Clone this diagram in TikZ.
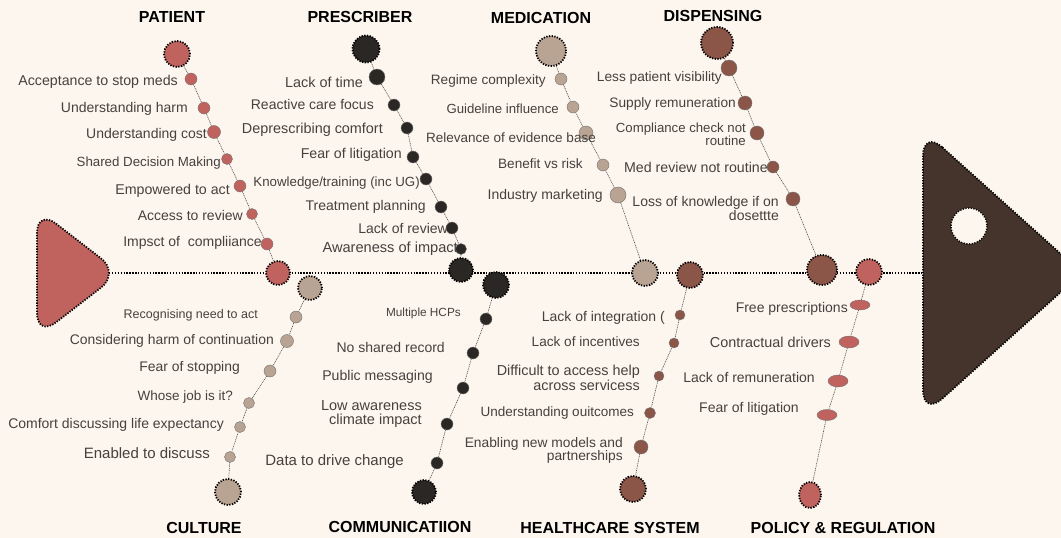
\documentclass[tikz,border=0pt]{standalone}
\usepackage{fontspec}
\setmainfont{Liberation Sans}
\usetikzlibrary{shapes.geometric}

\definecolor{bg}{HTML}{FDF6EE}
\definecolor{rose}{HTML}{C0635F}
\definecolor{coal}{HTML}{2B2724}
\definecolor{taupe}{HTML}{B9A392}
\definecolor{rust}{HTML}{8B5548}
\definecolor{headc}{HTML}{45342B}
\definecolor{txt}{HTML}{45413E}

\tikzset{
  hub/.style 2 args={circle, fill=#1, minimum size=#2, inner sep=0pt,
    draw=black, line width=1.8pt, dash pattern=on 1.3pt off 1.4pt},
  twig/.style 2 args={circle, fill=#1, minimum size=#2, inner sep=0pt,
    draw=black!55, line width=0.4pt},
  pill/.style 2 args={ellipse, fill=rose, minimum width=#1, minimum height=#2,
    inner sep=0pt, draw=black!55, line width=0.4pt},
  bone/.style={draw=black!70, line width=0.6pt, dash pattern=on 1pt off 0.8pt},
  spine/.style={draw=black, line width=2.3pt, dash pattern=on 1.4pt off 1.5pt},
  outline/.style={draw=black, line width=1.8pt, dash pattern=on 1.3pt off 1.4pt},
  lab/.style={font=\fontsize{14}{16}\selectfont, text=txt, inner sep=0pt, anchor=east},
  lab2/.style={font=\fontsize{13.5}{13}\selectfont, text=txt, inner sep=0pt, anchor=east, align=right},
  ttl/.style={font=\bfseries\fontsize{16}{18}\selectfont, text=black, inner sep=0pt},
}
\newcommand{\fsz}[1]{\fontsize{#1}{#1}\selectfont}

\begin{document}
\begin{tikzpicture}[x=1pt,y=-1pt]
\useasboundingbox (0,0) rectangle (1061,538);
\fill[bg] (0,0) rectangle (1061,538);

% spine end points
\coordinate (tailtip) at (109,273);
\coordinate (headback) at (923,273);
\draw[spine] (tailtip) -- (headback);

% tail fin
\draw[outline, fill=rose, rounded corners=24pt] (37,209) -- (120,273) -- (37,337) -- cycle;
% head with eye
\draw[outline, fill=headc, rounded corners=26pt] (923,130) -- (1082,273) -- (923,416) -- cycle;
\draw[outline, line width=1.4pt, fill=bg] (969,226) circle (18);

% ---------- PATIENT ----------
\node[hub={rose}{26}] (pa0) at (177,54) {};
\node[twig={rose}{12}] (pa1) at (191,79) {};
\node[twig={rose}{12}] (pa2) at (204,108) {};
\node[twig={rose}{13}] (pa3) at (214,132) {};
\node[twig={rose}{11}] (pa4) at (227,159) {};
\node[twig={rose}{12}] (pa5) at (240,186) {};
\node[twig={rose}{11}] (pa6) at (252,214) {};
\node[twig={rose}{12}] (pa7) at (267,244) {};
\node[hub={rose}{24}] (pa8) at (278,273) {};
\draw[bone] (pa0) -- (pa1) -- (pa2) -- (pa3) -- (pa4) -- (pa5) -- (pa6) -- (pa7) -- (pa8);

% ---------- PRESCRIBER ----------
\node[hub={coal}{27}] (pr0) at (366,49) {};
\node[twig={coal}{16}] (pr1) at (377,77) {};
\node[twig={coal}{12}] (pr2) at (394,105) {};
\node[twig={coal}{12}] (pr3) at (407,128) {};
\node[twig={coal}{12}] (pr4) at (413,157) {};
\node[twig={coal}{12}] (pr5) at (426,179) {};
\node[twig={coal}{12}] (pr6) at (441,207) {};
\node[twig={coal}{12}] (pr7) at (452,228) {};
\node[twig={coal}{11}] (pr8) at (461,249) {};
\node[hub={coal}{24}] (pr9) at (461,270) {};
\draw[bone] (pr0) -- (pr1) -- (pr2) -- (pr3) -- (pr4) -- (pr5) -- (pr6) -- (pr7) -- (pr8) -- (pr9);

% ---------- MEDICATION ----------
\node[hub={taupe}{30}] (me0) at (551,51) {};
\node[twig={taupe}{12}] (me1) at (561,79) {};
\node[twig={taupe}{12}] (me2) at (573,107) {};
\node[twig={taupe}{14}] (me3) at (586,133) {};
\node[twig={taupe}{12}] (me4) at (603,165) {};
\node[twig={taupe}{16}] (me5) at (618,195) {};
\node[hub={taupe}{26}] (me6) at (645,273) {};
\draw[bone] (me0) -- (me1) -- (me2) -- (me3) -- (me4) -- (me5) -- (me6);

% ---------- DISPENSING ----------
\node[hub={rust}{32}] (di0) at (717,43) {};
\node[twig={rust}{16}] (di1) at (729,68) {};
\node[twig={rust}{14}] (di2) at (745,103) {};
\node[twig={rust}{14}] (di3) at (757,133) {};
\node[twig={rust}{12}] (di4) at (773,167) {};
\node[twig={rust}{14}] (di5) at (793,199) {};
\node[hub={rust}{30}] (di6) at (822,270) {};
\draw[bone] (di0) -- (di1) -- (di2) -- (di3) -- (di4) -- (di5) -- (di6);

% ---------- CULTURE ----------
\node[hub={taupe}{24}] (cu0) at (310,288) {};
\node[twig={taupe}{12}] (cu1) at (296,317) {};
\node[twig={taupe}{13}] (cu2) at (287,341) {};
\node[twig={taupe}{12}] (cu3) at (270,371) {};
\node[twig={taupe}{11}] (cu4) at (249,403) {};
\node[twig={taupe}{11}] (cu5) at (240,427) {};
\node[twig={taupe}{11}] (cu6) at (230,457) {};
\node[hub={taupe}{26}] (cu7) at (228,492) {};
\draw[bone] (cu0) -- (cu1) -- (cu2) -- (cu3) -- (cu4) -- (cu5) -- (cu6) -- (cu7);

% ---------- COMMUNICATION ----------
\node[hub={coal}{26}] (co0) at (496,285) {};
\node[twig={coal}{12}] (co1) at (486,319) {};
\node[twig={coal}{12}] (co2) at (473,353) {};
\node[twig={coal}{12}] (co3) at (463,388) {};
\node[twig={coal}{12}] (co4) at (447,424) {};
\node[twig={coal}{12}] (co5) at (437,463) {};
\node[hub={coal}{24}] (co6) at (424,492) {};
\draw[bone] (co0) -- (co1) -- (co2) -- (co3) -- (co4) -- (co5) -- (co6);

% ---------- HEALTHCARE SYSTEM ----------
\node[hub={rust}{26}] (hs0) at (690,275) {};
\node[twig={rust}{10}] (hs1) at (680,315) {};
\node[twig={rust}{10}] (hs2) at (674,343) {};
\node[twig={rust}{10}] (hs3) at (659,376) {};
\node[twig={rust}{11}] (hs4) at (650,413) {};
\node[twig={rust}{14}] (hs5) at (641,447) {};
\node[hub={rust}{26}] (hs6) at (633,489) {};
\draw[bone] (hs0) -- (hs1) -- (hs2) -- (hs3) -- (hs4) -- (hs5) -- (hs6);

% ---------- POLICY & REGULATION ----------
\node[hub={rose}{26}] (po0) at (869,272) {};
\node[pill={20}{10}] (po1) at (860,305) {};
\node[pill={20}{12}] (po2) at (849,342) {};
\node[pill={20}{12}] (po3) at (838,381) {};
\node[pill={20}{11}] (po4) at (827,415) {};
\node[hub={rose}{1}, ellipse, minimum width=22, minimum height=26] (po5) at (810,495) {};
\draw[bone] (po0) -- (po1) -- (po2) -- (po3) -- (po4) -- (po5);

% ---------- labels ----------
\node[lab, font=\fsz{14.2}] (lpa1) at (178,82) {Acceptance to stop meds};
\node[lab] (lpa2) at (188,109) {Understanding harm};
\node[lab] (lpa3) at (207,135) {Understanding cost};
\node[lab, font=\fsz{13.3}] (lpa4) at (221,163) {Shared Decision Making};
\node[lab, font=\fsz{14.2}] (lpa5) at (230,191) {Empowered to act};
\node[lab] (lpa6) at (243,215) {Access to review};
\node[lab] (lpa7) at (262,243) {Impsct of\ \ compliiance};

\node[lab, font=\fsz{14.4}] (lpr1) at (363,82) {Lack of time};
\node[lab] (lpr2) at (374,104) {Reactive care focus};
\node[lab, font=\fsz{14.4}] (lpr3) at (383,130) {Deprescribing comfort};
\node[lab, font=\fsz{14.2}] (lpr4) at (402,155) {Fear of litigation};
\node[lab, font=\fsz{13.3}] (lpr5) at (420,183) {Knowledge/training (inc UG)};
\node[lab] (lpr6) at (426,207) {Treatment planning};
\node[lab] (lpr7) at (448,228) {Lack of review};
\node[lab, font=\fsz{14.6}] (lpr8) at (458,249) {Awareness of impact};

\node[lab, font=\fsz{13.6}] (lme1) at (546,81) {Regime complexity};
\node[lab, font=\fsz{13.2}] (lme2) at (559,109) {Guideline influence};
\node[lab, font=\fsz{13.5}] (lme3) at (596,138) {Relevance of evidence base};
\node[lab, font=\fsz{13.6}] (lme4) at (583,164) {Benefit vs risk};
\node[lab] (lme5) at (603,196) {Industry marketing};

\node[lab, font=\fsz{13.7}] (ldi1) at (722,78) {Less patient visibility};
\node[lab, font=\fsz{13.7}] (ldi2) at (736,104) {Supply remuneration};
\node[lab2, font=\fsz{13.2}] (ldi3) at (746,134) {Compliance check not\\routine};
\node[lab, font=\fsz{14.2}] (ldi4) at (768,167) {Med review not routine};
\node[lab2, font=\fsz{14}] (ldi5) at (779,208) {Loss of knowledge if on\\dosettte};

\node[lab, font=\fsz{12.5}] (lcu1) at (258,315) {Recognising need to act};
\node[lab, font=\fsz{13.9}] (lcu2) at (274,341) {Considering harm of continuation};
\node[lab, font=\fsz{13.9}] (lcu3) at (240,368) {Fear of stopping};
\node[lab, font=\fsz{13.5}] (lcu4) at (233,397) {Whose job is it?};
\node[lab, font=\fsz{14}] (lcu5) at (224,425) {Comfort discussing life expectancy};
\node[lab, font=\fsz{15}] (lcu6) at (210,453) {Enabled to discuss};

\node[lab, font=\fsz{11.8}] (lco1) at (461,313) {Multiple HCPs};
\node[lab] (lco2) at (445,347) {No shared record};
\node[lab, font=\fsz{14.1}] (lco3) at (433,377) {Public messaging};
\node[lab2, font=\fontsize{14.5}{14}\selectfont] (lco4) at (422,414) {Low awareness\\climate impact};
\node[lab, font=\fsz{15}] (lco5) at (404,462) {Data to drive change};

\node[lab] (lhs1) at (665,318) {Lack of integration (};
\node[lab, font=\fsz{13.6}] (lhs2) at (640,342) {Lack of incentives};
\node[lab2, font=\fontsize{14.4}{13}\selectfont] (lhs3) at (640,378) {Difficult to access help\\across servicess};
\node[lab, font=\fsz{13.5}] (lhs4) at (634,413) {Understanding ouitcomes};
\node[lab2, font=\fontsize{13.8}{13}\selectfont] (lhs5) at (623,450) {Enabling new models and\\partnerships};

\node[lab] (lpo1) at (848,309) {Free prescriptions};
\node[lab, font=\fsz{14.4}] (lpo2) at (831,342) {Contractual drivers};
\node[lab] (lpo3) at (815,377) {Lack of remuneration};
\node[lab] (lpo4) at (799,409) {Fear of litigation};

% ---------- category titles ----------
\node[ttl] (tpa) at (172,17) {PATIENT};
\node[ttl] (tpr) at (360,17) {PRESCRIBER};
\node[ttl] (tme) at (541,18) {MEDICATION};
\node[ttl] (tdi) at (713,16) {DISPENSING};
\node[ttl] (tcu) at (204,528) {CULTURE};
\node[ttl] (tco) at (400,527) {COMMUNICATIION};
\node[ttl] (ths) at (610,528) {HEALTHCARE SYSTEM};
\node[ttl] (tpo) at (843,528) {POLICY \& REGULATION};
\end{tikzpicture}
\end{document}
